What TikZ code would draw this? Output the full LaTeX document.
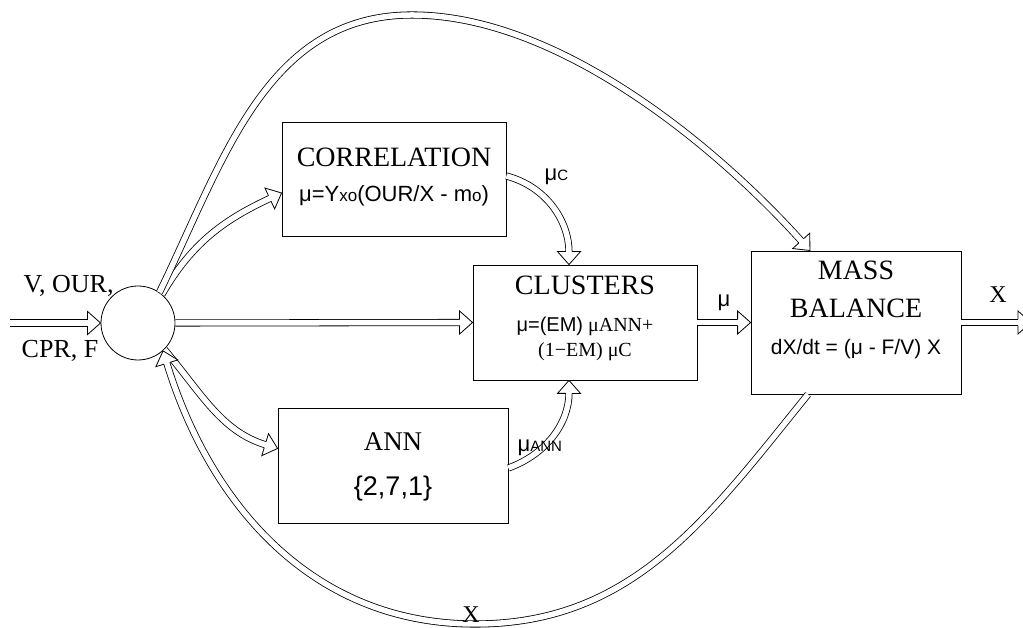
\documentclass[tikz,border=0pt]{standalone}
\usepackage{fontspec}
\setmainfont{Liberation Serif}
\setsansfont{Liberation Sans}
\usetikzlibrary{decorations.markings}
\newcommand{\fsz}[1]{\fontsize{#1}{#1}\selectfont}

\begin{document}
\begin{tikzpicture}[x=1pt,y=1pt,line width=0.8pt,
    box/.style={draw,rectangle,inner sep=0pt},
    hollow/.style={preaction={draw,double,double distance=5.5pt,shorten >=12.5pt},
      postaction={decorate,decoration={markings,mark=at position 0.9999 with
        {\draw[fill=white] (-13pt,3.15pt) -- (-13pt,11.5pt) -- (0pt,0pt) -- (-13pt,-11.5pt) -- (-13pt,-3.15pt);}}}}]
  \useasboundingbox (0,0) rectangle (1023,628);
  % blocks
  \node[draw,circle,minimum size=74pt,inner sep=0pt] (circ) at (138,305) {};
  \node[box,minimum width=224pt,minimum height=114pt] (corr) at (394,449) {};
  \node[box,minimum width=224pt,minimum height=115pt] (clus) at (585,305.5) {};
  \node[box,minimum width=210pt,minimum height=143pt] (mass) at (856,305.5) {};
  \node[box,minimum width=230pt,minimum height=115pt] (ann) at (393,162.5) {};
  % texts in the blocks
  \node[anchor=base] (corr1) at ([yshift=12pt]corr.center) {\fsz{28}CORRELATION};
  \node[anchor=base] (corr2) at ([yshift=-23pt]corr.center) {\sffamily\fsz{22}μ=Y{\fsz{17}xo}(OUR/X - m{\fsz{17}o})};
  \node[anchor=base] (clus1) at ([yshift=27.5pt]clus.center) {\fsz{28}CLUSTERS};
  \node[anchor=base] (clus2) at ([yshift=-9.5pt]clus.center) {\fsz{20}{\sffamily μ=(EM)} μANN+};
  \node[anchor=base] (clus3) at ([yshift=-34.5pt]clus.center) {\fsz{20}(1−EM)~μC};
  \node[anchor=base] (mass1) at ([yshift=42.5pt]mass.center) {\fsz{28}MASS};
  \node[anchor=base] (mass2) at ([yshift=4.5pt]mass.center) {\fsz{28}BALANCE};
  \node[anchor=base] (mass3) at ([yshift=-32.5pt]mass.center) {\sffamily\fsz{21}dX/dt = (μ - F/V) X};
  \node[anchor=base] (ann1) at ([yshift=14.5pt]ann.center) {\fsz{27}ANN};
  \node[anchor=base] (ann2) at ([yshift=-30.5pt]ann.center) {\sffamily\fsz{27}\{2,7,1\}};
  % free ends and way points
  \coordinate (inp) at (10,305);
  \coordinate (outp) at (1031,305.5);
  \coordinate (top) at (412,613);
  \coordinate (bot) at (475,4);
  % arrows
  \path[hollow] (inp) -- (circ.west);
  \path[hollow] (circ.east) -- (clus.west);
  \path[hollow] (circ.50) to[out=60,in=205] ([yshift=-14pt]corr.west);
  \path[hollow] (circ.-45) to[out=-50,in=163] ([yshift=17pt]ann.west);
  \path[hollow] (circ.55) to[out=64,in=180] (top) to[out=0,in=132,looseness=0.8] ([xshift=-46pt]mass.north);
  \path[hollow] ([xshift=-48pt]mass.south) to[out=231,in=0] (bot) to[out=180,in=287] (circ.-48);
  \path[hollow] ([yshift=3pt]corr.east) to[out=-15,in=90] ([xshift=-16pt]clus.north);
  \path[hollow] ([yshift=-2.5pt]ann.east) to[out=20,in=-90] ([xshift=-16pt]clus.south);
  \path[hollow] (clus.east) -- (mass.west);
  \path[hollow] (mass.east) -- (outp);
  % labels
  \node[anchor=base west] (lvour) at (20,335) {\fsz{26}V, OUR,};
  \node[anchor=base west] (lcprf) at (18,270) {\fsz{26}CPR, F};
  \node[anchor=base west] (lmuc) at (541,447) {\sffamily\fsz{22}μ\fsz{15}C};
  \node[anchor=base] (lmu) at (724,321) {\sffamily\fsz{22}μ};
  \node[anchor=base west] (lmuann) at (514,176) {\sffamily\fsz{22}μ\fsz{15}ANN};
  \node[anchor=base] (lxout) at (998,325) {\fsz{24}X};
  \node[anchor=base] (lxbot) at (471,5) {\fsz{24}X};
\end{tikzpicture}
\end{document}
